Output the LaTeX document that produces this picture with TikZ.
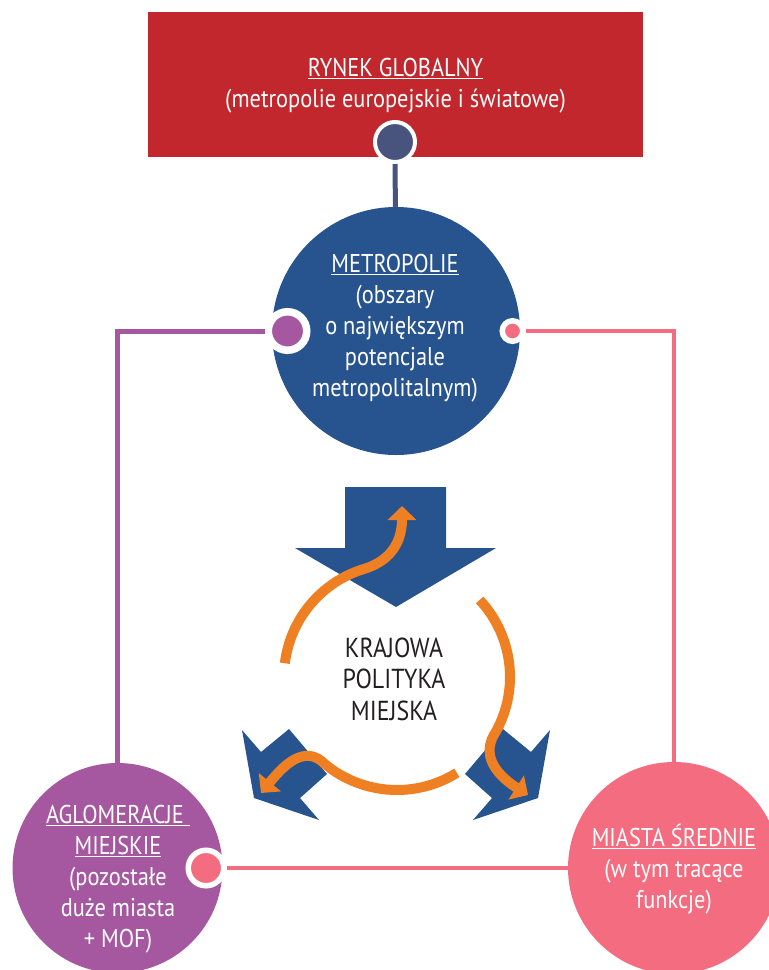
\documentclass[tikz,border=0pt]{standalone}
\usepackage{fontspec}
\setmainfont{PT Sans}[FakeStretch=0.87]
\usetikzlibrary{arrows.meta}
\definecolor{rynekred}{HTML}{C1272D}
\definecolor{slateball}{HTML}{48537E}
\definecolor{metroblue}{HTML}{27548F}
\definecolor{aglopurple}{HTML}{A558A0}
\definecolor{miastapink}{HTML}{F36C80}
\definecolor{flowor}{HTML}{EE7F23}
\definecolor{inkdark}{HTML}{231F20}
\tikzset{
  lbl/.style={text=white, align=center, inner sep=0pt,
    font=\fontsize{25.7}{31}\selectfont},
  disc/.style={circle, inner sep=0pt, draw=none},
  knob/.style={circle, inner sep=0pt, draw=white},
  flow/.style={draw=flowor, line width=10pt, line cap=butt,
    -{Triangle[length=14pt,width=28pt]}},
}
\begin{document}
\begin{tikzpicture}[x=1pt,y=-1pt]
\useasboundingbox (0,0) rectangle (769,970);
\clip (0,0) rectangle (769,970);

% top box: global market (text nodes are placed by the baseline of their last line)
\node[fill=rynekred, minimum width=495pt, minimum height=145pt, inner sep=0pt] (rynek) at (395.5,84.5) {};
\node[lbl, anchor=base] (rynektxt) at (395.5,107)
  {\underline{RYNEK GLOBALNY}\\(metropolie europejskie i światowe)};

% the four areas
\node[disc, fill=metroblue, minimum size=248pt] (metro) at (396,331) {};
\node[disc, fill=aglopurple, minimum size=210pt] (aglom) at (117.5,868) {};
\node[disc, fill=miastapink, minimum size=212pt] (miasta) at (674,868) {};

\node[lbl, anchor=base] (metrotxt) at (395,396)
  {\underline{METROPOLIE}\\(obszary\\o największym\\potencjale\\metropolitalnym)};
\node[lbl, anchor=base] (aglomtxt) at (118,947)
  {\underline{AGLOMERACJE }\\\underline{MIEJSKIE}\\(pozostałe\\duże miasta\\+ MOF)};
\node[lbl, anchor=base] (miastatxt) at (674,908)
  {\underline{MIASTA ŚREDNIE}\\(w tym tracące\\funkcje)};

% connector knobs
\node[knob, fill=slateball, line width=4pt, minimum size=40pt] (kTop) at (395,142) {};
\node[knob, fill=aglopurple, line width=7.5pt, minimum size=38.5pt] (kPurple) at (287.5,331) {};
\node[knob, fill=miastapink, line width=5.5pt, minimum size=20.5pt] (kPinkR) at (512.5,331) {};
\node[knob, fill=miastapink, line width=5.5pt, minimum size=35.5pt] (kPinkL) at (206,868) {};

% connectors
\draw[slateball, line width=5pt] (kTop) -- (metro);
\draw[aglopurple, line width=5pt] (kPurple) -| (aglom);
\draw[miastapink, line width=3.5pt] (kPinkR) -| (miasta);
\draw[miastapink, line width=4.5pt] (kPinkL) -- (miasta);

% national urban policy: blue arrows
\fill[metroblue] (345,487) -- (446,487) -- (446,548) -- (496,548) -- (396,607)
  -- (295,548) -- (345,548) -- cycle;
\fill[metroblue] (327,774) -- (289,729) -- (261,752) -- (242,730) -- (254,798)
  -- (319,820) -- (300,798) -- cycle;
\fill[metroblue] (465,774) -- (503,729) -- (531,752) -- (550,730) -- (538,798)
  -- (473,820) -- (492,798) -- cycle;

% orange cycle
\coordinate (cyc) at (397,677);
\draw[flow] (cyc) ++(187:113) arc[start angle=187, end angle=252, radius=113]
  .. controls (382,564) and (402,550) .. (402,506);
\draw[flow] (cyc) ++(317:113) arc[start angle=317, end angle=389, radius=113]
  .. controls (482,752) and (492,772) .. (528,795);
\draw[flow] (cyc) ++(58:113) arc[start angle=58, end angle=132, radius=113]
  .. controls (301,745) and (280,770) .. (261,793);

\node[text=inkdark, align=center, inner sep=0pt, anchor=base,
  font=\fontsize{27.5}{31.5}\selectfont] (kpm) at (394,720)
  {KRAJOWA\\POLITYKA\\MIEJSKA};
\end{tikzpicture}
\end{document}
